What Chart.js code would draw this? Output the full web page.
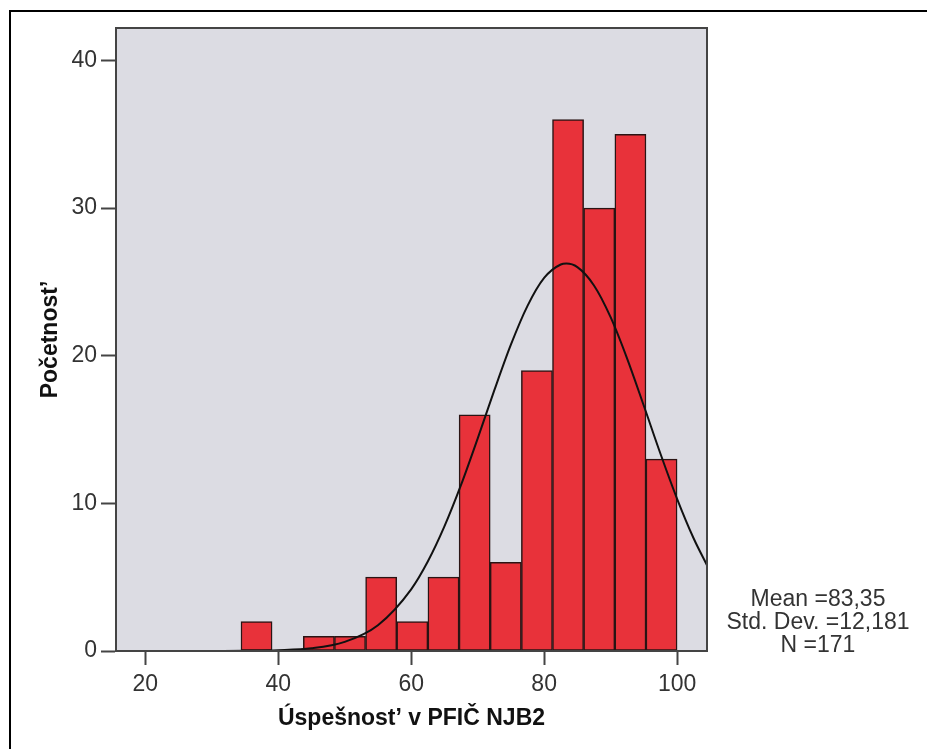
<!DOCTYPE html>
<html>
<head>
<meta charset="utf-8">
<script src="https://cdn.jsdelivr.net/npm/chart.js@4.4.1/dist/chart.umd.min.js"></script>
<style>
  body { margin: 0; background: #fff; }
  .frame { position: absolute; left: 9px; top: 10px; width: 1000px; height: 800px; border: 2px solid #000; }
  #wrap { position: absolute; left: 0; top: 0; width: 927px; height: 749px; }
  .stats { position: absolute; left: 718px; top: 587px; width: 200px; text-align: center;
    font: 23px "Liberation Sans", Arial, sans-serif; line-height: 23px; color: #333; }
</style>
</head>
<body>
<div class="frame"></div>
<div id="wrap"><canvas id="myChart" width="927" height="749"></canvas></div>
<div class="stats">Mean =83,35<br>Std. Dev. =12,181<br>N =171</div>
<script>
// histogram bins (centres) and counts
const binCentres = [36.74, 41.43, 46.12, 50.80, 55.49, 60.17, 64.86, 69.55, 74.23, 78.92, 83.60, 88.29, 92.98, 97.66];
const counts = [2, 0, 1, 1, 5, 2, 5, 16, 6, 19, 36, 30, 35, 13];
// normal curve
const curveX = [30, 35, 40, 45, 50, 55, 60, 62.5, 65, 67.5, 70, 72.5, 75, 77.5, 80, 82.5, 83.35, 85, 87.5, 90, 92.5, 95, 97.5, 100, 102.5, 104.5];
const curveY = [0, 0.01, 0.05, 0.18, 0.62, 1.75, 4.18, 6.06, 8.44, 11.25, 14.39, 17.65, 20.75, 23.38, 25.27, 26.18, 26.24, 26.0, 24.76, 22.61, 19.79, 16.61, 13.36, 10.31, 7.62, 5.81];
const xTicks = [20, 40, 60, 80, 100];
const yTicks = [0, 10, 20, 30, 40];

const tickFont = { family: '"Liberation Sans", Arial, sans-serif', size: 23 };
const titleFont = { family: '"Liberation Sans", Arial, sans-serif', size: 23, weight: 'bold' };

// grey plot background + frame
const plotBox = {
    id: 'plotBox',
    beforeDatasetsDraw(chart) {
        const a = chart.chartArea, c = chart.ctx;
        c.save();
        c.fillStyle = '#dcdce3';
        c.fillRect(a.left, a.top, a.right - a.left, a.bottom - a.top);
        c.restore();
    },
    afterDraw(chart) {
        const a = chart.chartArea, c = chart.ctx;
        c.save();
        c.strokeStyle = '#444';
        c.lineWidth = 2;
        c.strokeRect(a.left, a.top, a.right - a.left, a.bottom - a.top);
        c.restore();
    }
};

var ctx = document.getElementById('myChart').getContext('2d');
var chart = new Chart(ctx, {
    type: 'bar',
    data: {
        datasets: [{
                type: 'line',
                data: curveX.map((x, i) => ({ x: x, y: curveY[i] })),
                borderColor: '#111',
                borderWidth: 2,
                pointRadius: 0,
                cubicInterpolationMode: 'monotone',
                order: 0
            },
            {
                data: binCentres.map((x, i) => ({ x: x, y: counts[i] })),
                backgroundColor: '#e8323a',
                borderColor: '#2a1414',
                borderWidth: 1.5,
                borderSkipped: false,
                barPercentage: 1,
                categoryPercentage: 1,
                order: 1
            }
        ]
    },
    options: {
        responsive: false,
        animation: false,
        layout: { padding: { left: 0, top: 28, right: 220, bottom: 0 } },
        plugins: { legend: { display: false }, tooltip: { enabled: false } },
        scales: {
            x: {
                type: 'linear',
                offset: false,
                min: 15.6,
                max: 104.5,
                afterBuildTicks: s => { s.ticks = xTicks.map(v => ({ value: v })); },
                afterFit: s => { s.height = 98; },
                ticks: { font: tickFont, color: '#333', padding: 6, maxRotation: 0 },
                grid: { offset: false, drawOnChartArea: false, tickLength: 14, tickColor: '#444', tickWidth: 2 },
                border: { color: '#444', width: 2 },
                title: { display: true, text: 'Úspešnost’ v PFIČ NJB2', font: titleFont, color: '#111', padding: { top: 0, bottom: 17 } }
            },
            y: {
                min: 0,
                max: 42.2,
                afterBuildTicks: s => { s.ticks = yTicks.map(v => ({ value: v })); },
                afterFit: s => { s.width = 116; },
                ticks: { font: tickFont, color: '#333', padding: 4 },
                grid: { drawOnChartArea: false, tickLength: 15, tickColor: '#444', tickWidth: 2 },
                border: { color: '#444', width: 2 },
                title: { display: true, text: 'Početnost’', font: titleFont, color: '#111', padding: { top: 37, bottom: 0 } }
            }
        }
    },
    plugins: [plotBox]
});
</script>
</body>
</html>
